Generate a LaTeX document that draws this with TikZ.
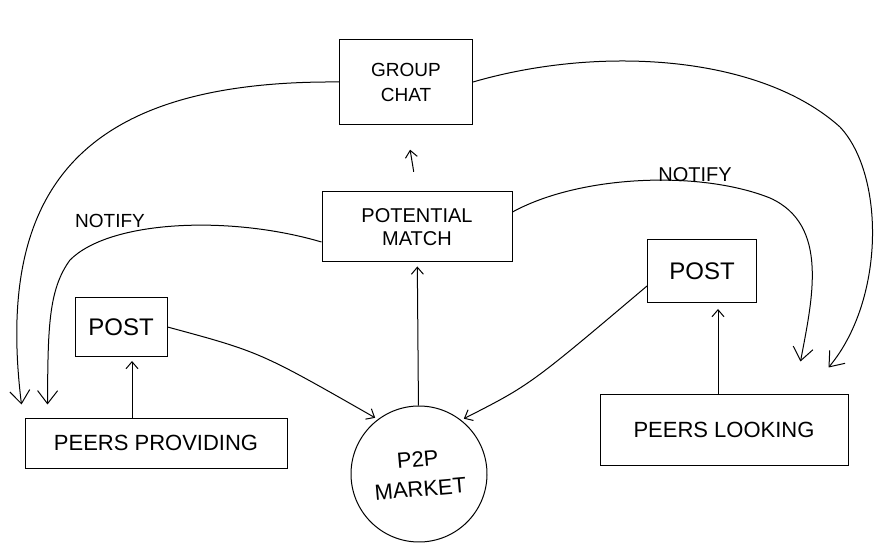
\documentclass[tikz,border=0pt]{standalone}
\usepackage{fontspec}
\setmainfont{Liberation Sans}
\usetikzlibrary{arrows.meta}

\begin{document}
\begin{tikzpicture}[x=1pt, y=-1pt, line width=1pt,
    box/.style={draw, align=center, inner sep=0pt},
    arr/.style={-{Straight Barb[length=7pt, width=12pt]}},
    bigarr/.style={-{Straight Barb[length=13pt, width=20pt]}}]
  \useasboundingbox (0,0) rectangle (876,545);
  % Boxes
  \node[box, minimum width=133pt, minimum height=85pt,
    font=\fontsize{19}{25}\selectfont] (chat) at (406,82) {GROUP\\CHAT};
  \node[box, minimum width=190pt, minimum height=70pt,
    font=\fontsize{20}{23}\selectfont] (match) at (417,227) {POTENTIAL\\MATCH};
  \node[box, minimum width=92pt, minimum height=59pt,
    font=\fontsize{24}{28}\selectfont] (postL) at (121,327) {POST};
  \node[box, minimum width=109pt, minimum height=63pt,
    font=\fontsize{24}{28}\selectfont] (postR) at (702,271) {POST};
  \node[box, minimum width=262pt, minimum height=50pt,
    font=\fontsize{22}{26}\selectfont] (provide) at (156,443) {PEERS PROVIDING};
  \node[box, minimum width=248pt, minimum height=70pt,
    font=\fontsize{22}{26}\selectfont] (look) at (724,430) {PEERS LOOKING};
  \node[box, circle, minimum size=136pt, rotate=5,
    font=\fontsize{22}{30}\selectfont] (mkt) at (419,474) {P2P\\MARKET};
  % Labels
  \node[anchor=south, font=\fontsize{19}{22}\selectfont] (notifyL) at (110,232) {NOTIFY};
  \node[anchor=south, font=\fontsize{20}{23}\selectfont] (notifyR) at (695,186) {NOTIFY};
  % Loose arrow ends
  \coordinate (endGL) at ([xshift=-3pt, yshift=13pt]provide.north west);
  \coordinate (endNL) at ([xshift=23pt, yshift=13pt]provide.north west);
  \coordinate (endNR) at ([xshift=-48pt, yshift=33pt]look.north east);
  \coordinate (endGR) at ([xshift=-20pt, yshift=27pt]look.north east);
  % Posting
  \draw[arr, shorten >=4pt] ([xshift=-24pt]provide.north) -- ([xshift=11pt]postL.south);
  \draw[arr, shorten >=6pt] ([xshift=-6pt]look.north) -- ([xshift=16pt]postR.south);
  \draw[arr, shorten >=3pt] (postL.east) .. controls (260,352) .. (mkt.122);
  \draw[arr, shorten >=3pt] ([yshift=-15pt]postR.west) .. controls (530,385) .. (mkt.47);
  % Matching
  \draw[arr, shorten >=4pt] (mkt) -- (match);
  \draw[arr, shorten <=20pt, shorten >=25pt] (match.north) -- (chat.south);
  % Notify
  \draw[bigarr] ([yshift=-15pt]match.west) .. controls (230,215) and (110,220) .. (70,260)
    .. controls (48,290) and (48,330) .. (endNL);
  \draw[bigarr] ([yshift=15pt]match.east) .. controls (580,175) and (700,170) .. (770,198)
    .. controls (830,225) and (812,300) .. (endNR);
  % Group chat
  \draw[bigarr] (chat.west) .. controls (80,80) and (-5,190) .. (endGL);
  \draw[bigarr] (chat.east) .. controls (600,45) and (760,55) .. (840,127)
    .. controls (885,175) and (885,300) .. (endGR);
\end{tikzpicture}
\end{document}
